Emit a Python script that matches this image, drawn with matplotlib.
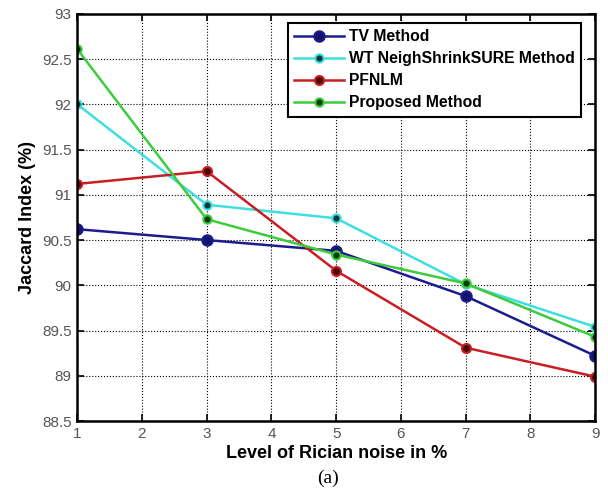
import numpy as np
import matplotlib.pyplot as plt

plt.rcParams['font.family'] = ['Liberation Sans', 'DejaVu Sans']

noise = [1, 3, 5, 7, 9]
tv = [90.62, 90.50, 90.38, 89.88, 89.22]
wt = [92.00, 90.89, 90.74, 90.01, 89.54]
pfnlm = [91.12, 91.26, 90.16, 89.31, 88.99]
proposed = [92.61, 90.73, 90.34, 90.02, 89.43]

labels = ["TV Method", "WT NeighShrinkSURE Method", "PFNLM", "Proposed Method"]
colors = ["#1c1c8f", "#40dede", "#c81e24", "#3ccc3c"]
centers = ["#14146a", "#0d3a3a", "#4a0a0a", "#0f3a0f"]
msizes = [7.5, 6, 6.5, 6]

fig = plt.figure(figsize=(6.08, 4.93), dpi=100)
ax = fig.add_axes([0.127, 0.146, 0.852, 0.826])

for ys, lab, c, cc, m in zip([tv, wt, pfnlm, proposed], labels, colors, centers, msizes):
    ax.plot(noise, ys, '-o', color=c, lw=1.8, ms=m, mfc=cc, mec=c, mew=1.5, label=lab)

ax.set_xlim(1, 9)
ax.set_ylim(88.5, 93)
ax.set_xticks(range(1, 10))
ax.set_yticks(np.arange(88.5, 93.01, 0.5))
ax.set_yticklabels(['88.5', '89', '89.5', '90', '90.5', '91', '91.5', '92', '92.5', '93'])
ax.grid(True, linestyle=':', color='black', lw=0.8)
ax.tick_params(direction='in', top=True, right=True, length=5, width=1.2,
               labelsize=11, labelcolor='#555555', pad=4)
for s in ax.spines.values():
    s.set_linewidth(1.8)

ax.set_xlabel("Level of Rician noise in %", fontsize=13, fontweight='bold', labelpad=3)
ax.set_ylabel("Jaccard Index (%)", fontsize=13, fontweight='bold', labelpad=4)
fig.text(0.54, 0.02, "(a)", fontsize=14, family='Liberation Serif', ha='center')

leg = ax.legend(loc='upper right', bbox_to_anchor=(0.973, 0.978),
                prop={'weight': 'bold', 'size': 11.3}, fancybox=False, framealpha=1,
                edgecolor='black', borderpad=0.4, labelspacing=0.45, handlelength=3.2,
                handletextpad=0.3, borderaxespad=0)
leg.get_frame().set_linewidth(1.5)

fig.savefig("out.png", dpi=100)
